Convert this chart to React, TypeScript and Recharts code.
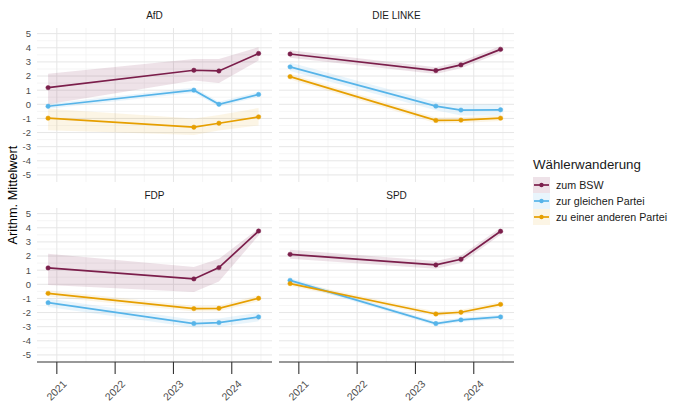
import React from "react";
import { ComposedChart, Line, Area, XAxis, YAxis, CartesianGrid } from "recharts";

// survey waves (decimal years)
const waves = [2020.85, 2023.35, 2023.78, 2024.46];
const parties = ["AfD", "DIE LINKE", "FDP", "SPD"];
const yearTicks = [2021, 2022, 2023, 2024];
const yTicks = [-5, -4, -3, -2, -1, 0, 1, 2, 3, 4, 5];

// means per party (rows follow `parties`)
const zumBsw = [
  [1.18, 2.41, 2.36, 3.6],
  [3.56, 2.39, 2.79, 3.89],
  [1.16, 0.38, 1.18, 3.77],
  [2.12, 1.37, 1.77, 3.75],
];
const gleichePartei = [
  [-0.14, 1.0, 0.0, 0.7],
  [2.65, -0.13, -0.41, -0.39],
  [-1.3, -2.78, -2.71, -2.31],
  [0.28, -2.78, -2.52, -2.31],
];
const anderePartei = [
  [-0.98, -1.62, -1.34, -0.89],
  [1.96, -1.14, -1.12, -0.98],
  [-0.64, -1.72, -1.7, -0.99],
  [0.05, -2.1, -1.98, -1.42],
];

// confidence band bounds
const zumBswLo = [
  [0.0, 1.69, 1.5, 3.1],
  [3.3, 2.15, 2.55, 3.65],
  [-0.05, -0.54, 0.2, 3.45],
  [1.8, 1.1, 1.5, 3.5],
];
const zumBswHi = [
  [2.16, 3.2, 3.2, 4.04],
  [3.82, 2.63, 3.03, 4.13],
  [2.16, 1.22, 1.8, 3.95],
  [2.45, 1.64, 2.04, 4.0],
];
const gleicheLo = [
  [-0.32, 0.82, -0.18, 0.52],
  [2.35, -0.43, -0.8, -0.8],
  [-1.6, -3.05, -3.0, -2.62],
  [0.12, -2.93, -2.67, -2.46],
];
const gleicheHi = [
  [0.04, 1.18, 0.18, 0.88],
  [2.95, 0.17, -0.02, 0.02],
  [-1.0, -2.51, -2.42, -2.0],
  [0.44, -2.63, -2.37, -2.16],
];
const andereLo = [
  [-1.83, -2.18, -1.85, -1.5],
  [1.75, -1.35, -1.32, -1.18],
  [-0.86, -1.92, -1.9, -1.2],
  [-0.12, -2.27, -2.15, -1.6],
];
const andereHi = [
  [-0.31, -1.0, -0.75, -0.26],
  [2.17, -0.93, -0.92, -0.78],
  [-0.42, -1.52, -1.5, -0.78],
  [0.22, -1.93, -1.81, -1.24],
];

const seriesNames = ["zum BSW", "zur gleichen Partei", "zu einer anderen Partei"];
const seriesColors = ["#7B1E4B", "#56B4E9", "#E69F00"];
const bandOpacity = [0.13, 0.13, 0.1];

const FONT = '"Liberation Sans", Arial, sans-serif';
const PLOT_W = 235;
const PLOT_H = 154;
const Y_AXIS_W = 37;
const X_AXIS_H = 46;

const facetPos = [
  { x: 37, y: 28, showX: false, showY: true },
  { x: 279, y: 28, showX: false, showY: false },
  { x: 37, y: 208, showX: true, showY: true },
  { x: 279, y: 208, showX: true, showY: false },
];

function rowsFor(p: number) {
  return waves.map((w, i) => ({
    x: w,
    bsw: zumBsw[p][i],
    bswBand: [zumBswLo[p][i], zumBswHi[p][i]],
    same: gleichePartei[p][i],
    sameBand: [gleicheLo[p][i], gleicheHi[p][i]],
    other: anderePartei[p][i],
    otherBand: [andereLo[p][i], andereHi[p][i]],
  }));
}

function YearTick(props: any) {
  const { x, y, payload } = props;
  const tx = x + 5;
  const ty = y + 3;
  return (
    <text
      x={tx}
      y={ty}
      transform={`rotate(-45, ${tx}, ${ty})`}
      textAnchor="end"
      dominantBaseline="hanging"
      fontSize={10.5}
      fill="#4D4D4D"
      fontFamily={FONT}
    >
      {payload.value}
    </text>
  );
}

function Facet({ p }: { p: number }) {
  const pos = facetPos[p];
  const data = rowsFor(p);
  const keys = ["bsw", "same", "other"];
  const width = PLOT_W + (pos.showY ? Y_AXIS_W : 0) + 2;
  const height = PLOT_H + (pos.showX ? X_AXIS_H : 0);
  return (
    <>
      <div
        style={{
          position: "absolute",
          left: pos.x,
          top: pos.y - 18,
          width: PLOT_W,
          textAlign: "center",
          fontSize: 10,
          color: "#1A1A1A",
          fontFamily: FONT,
        }}
      >
        {parties[p]}
      </div>
      <div style={{ position: "absolute", left: pos.x - (pos.showY ? Y_AXIS_W : 0), top: pos.y }}>
        <ComposedChart width={width} height={height} data={data} margin={{ top: 0, right: 2, left: 0, bottom: 0 }}>
          <CartesianGrid
            stroke="#F1F1F1"
            strokeWidth={0.7}
            horizontalValues={[-4.5, -3.5, -2.5, -1.5, -0.5, 0.5, 1.5, 2.5, 3.5, 4.5]}
            verticalValues={[2021.5, 2022.5, 2023.5, 2024.5]}
          />
          <CartesianGrid stroke="#E6E6E6" strokeWidth={1} horizontalValues={yTicks} verticalValues={yearTicks} />
          <XAxis
            type="number"
            dataKey="x"
            domain={[2020.66, 2024.69]}
            ticks={yearTicks}
            allowDataOverflow
            hide={!pos.showX}
            height={X_AXIS_H}
            axisLine={{ stroke: "#333333", strokeWidth: 1.1 }}
            tickLine={{ stroke: "#333333", strokeWidth: 1.1 }}
            tickSize={12}
            tick={<YearTick />}
            interval={0}
          />
          <YAxis
            type="number"
            domain={[-5.5, 5.4]}
            ticks={yTicks}
            allowDataOverflow
            hide={!pos.showY}
            width={Y_AXIS_W}
            axisLine={false}
            tickLine={false}
            tickSize={4}
            tick={{ fontSize: 9.5, fill: "#4D4D4D", fontFamily: FONT }}
            interval={0}
          />
          {keys.map((k, i) => (
            <Area
              key={k + "Band"}
              dataKey={k + "Band"}
              stroke="none"
              fill={seriesColors[i]}
              fillOpacity={bandOpacity[i]}
              isAnimationActive={false}
            />
          ))}
          {keys.map((k, i) => (
            <Line
              key={k}
              dataKey={k}
              stroke={seriesColors[i]}
              strokeWidth={1.7}
              dot={{ r: 2.2, fill: seriesColors[i], stroke: seriesColors[i], strokeWidth: 0.5 }}
              activeDot={false}
              isAnimationActive={false}
            />
          ))}
        </ComposedChart>
      </div>
    </>
  );
}

function Legend() {
  return (
    <div style={{ position: "absolute", left: 533, top: 157, fontFamily: FONT }}>
      <div style={{ fontSize: 13.3, color: "#1A1A1A", marginBottom: 5 }}>Wählerwanderung</div>
      {seriesNames.map((name, i) => (
        <div key={name} style={{ display: "flex", alignItems: "center", height: 16 }}>
          <svg width={17} height={16} style={{ marginRight: 6 }}>
            <rect x={0} y={0} width={17} height={16} fill={seriesColors[i]} fillOpacity={bandOpacity[i]} />
            <line x1={1} y1={8} x2={16} y2={8} stroke={seriesColors[i]} strokeWidth={1.7} />
            <circle cx={8.5} cy={8} r={2.2} fill={seriesColors[i]} />
          </svg>
          <span style={{ fontSize: 10.7, color: "#1A1A1A" }}>{name}</span>
        </div>
      ))}
    </div>
  );
}

export default function App() {
  return (
    <div style={{ position: "absolute", left: 0, top: 0, width: 680, height: 408, background: "#fff" }}>
      <div
        style={{
          position: "absolute",
          left: 12,
          top: 195,
          transform: "translate(-50%, -50%) rotate(-90deg)",
          fontSize: 12.8,
          color: "#000",
          fontFamily: FONT,
          whiteSpace: "nowrap",
        }}
      >
        Arithm. Mittelwert
      </div>
      {parties.map((_, p) => (
        <Facet key={p} p={p} />
      ))}
      <Legend />
    </div>
  );
}
